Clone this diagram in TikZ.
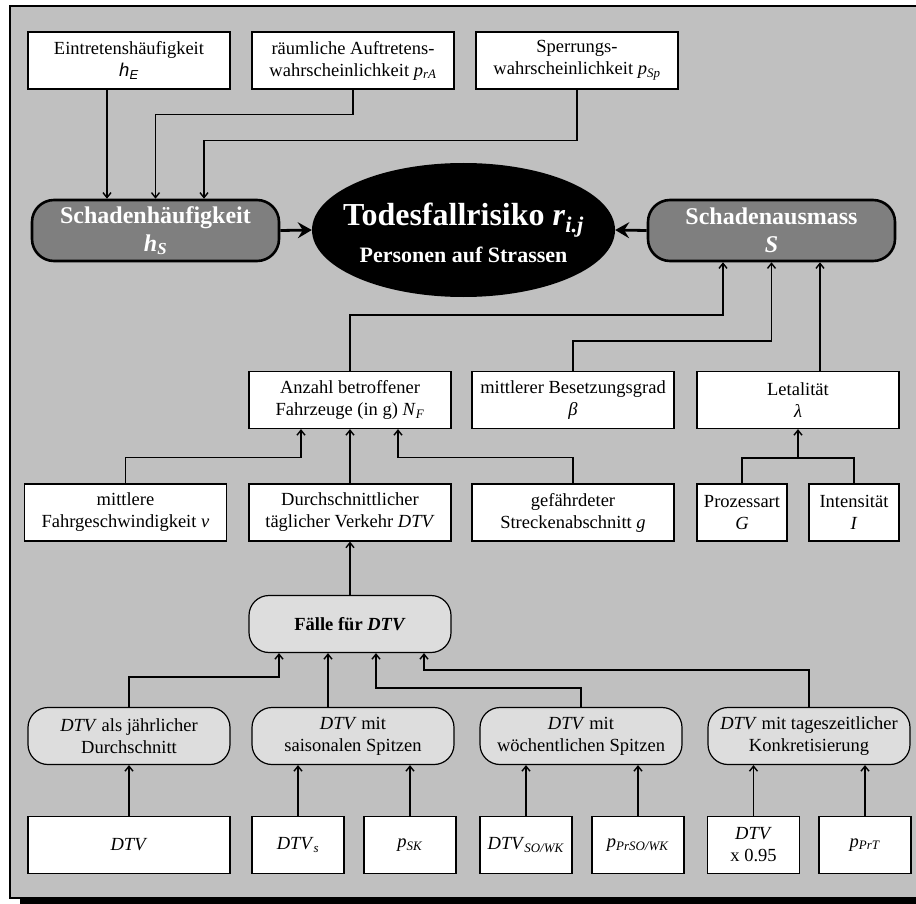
\documentclass[tikz,border=0pt]{standalone}
\usepackage{fontspec}
\setmainfont{Liberation Serif}
\newfontfamily\arialfont{Liberation Sans}
\usetikzlibrary{arrows.meta,positioning,calc,shapes.geometric}
\definecolor{bggrey}{HTML}{C0C0C0}
\definecolor{casegrey}{HTML}{DDDDDD}
\definecolor{mainbox}{HTML}{7F7F7F}
\newcommand{\iv}[2]{\textit{#1}\textsubscript{\textit{#2}}}

\tikzset{
  inbox/.style={draw, fill=white, line width=1.2pt, align=center, inner sep=0pt,
    minimum width=202pt, minimum height=57pt, font=\fontsize{18.5}{22}\selectfont},
  smallbox/.style={inbox, minimum width=92pt},
  casebox/.style={inbox, fill=casegrey, rounded corners=20pt},
  mainnode/.style={draw, fill=mainbox, line width=2.6pt, rounded corners=22pt,
    minimum width=247pt, minimum height=61pt, inner sep=0pt, text=white, align=center,
    font=\bfseries\fontsize{24}{28}\selectfont},
  link/.style={line width=1.4pt},
  arr/.style={link, -{Straight Barb[length=5pt,width=8pt]}},
  bigarr/.style={line width=2.8pt, -{Stealth[length=14pt,width=16pt,inset=5pt]}},
}

\begin{document}
\begin{tikzpicture}[x=1pt,y=-1pt]
  \useasboundingbox (0,0) rectangle (916,904);
  \clip (0,0) rectangle (916,904);
  % frame with shadow
  \fill[black] (20,12) rectangle (930,912);
  \draw[fill=bggrey, line width=1.6pt] (10,6) rectangle (925,898);

  % top row
  \node[inbox] (eintr) at (129,60.5) {Eintretensh\"aufigkeit\\{\arialfont\textit{h}\textsubscript{\textit{E}}}};
  \node[inbox] (raeuml) at (353,60.5) {r\"aumliche Auftretens-\\wahrscheinlichkeit \iv{p}{rA}};
  \node[inbox] (sperr) at (577,60.5) {Sperrungs-\\wahrscheinlichkeit \iv{p}{Sp}};

  % main level
  \node[mainnode] (hS) at (155.5,230.5) {Schadenh\"aufigkeit\\\iv{h}{S}};
  \node[ellipse, fill=black, minimum width=303pt, minimum height=134pt, inner sep=0pt] (risk) at (463.5,230) {};
  \node[text=white, align=center, font=\bfseries\fontsize{22}{37}\selectfont] (risktxt) at ([yshift=-3pt]risk.center)
    {{\fontsize{32}{37}\selectfont Todesfallrisiko \iv{r}{i.j}}\\Personen auf Strassen};
  \node[mainnode] (S) at (771.5,230.5) {Schadenausmass\\\textit{S}};

  % factors
  \node[inbox] (anzahl) at (350,400) {Anzahl betroffener\\Fahrzeuge (in g) \iv{N}{F}};
  \node[inbox] (beset) at (573,400) {mittlerer Besetzungsgrad\\\textit{β}};
  \node[inbox] (letal) at (798,400) {Letalit\"at\\\textit{λ}};

  \node[inbox] (fahrg) at (125.5,512.5) {mittlere\\Fahrgeschwindigkeit \textit{v}};
  \node[inbox] (dtv) at (350,512.5) {Durchschnittlicher\\t\"aglicher Verkehr \textit{DTV}};
  \node[inbox] (gefahr) at (573,512.5) {gef\"ahrdeter\\Streckenabschnitt \textit{g}};
  \node[inbox, minimum width=90pt] (prozess) at (742,512.5) {Prozessart\\\textit{G}};
  \node[inbox, minimum width=90pt] (intens) at (854,512.5) {Intensit\"at\\\textit{I}};

  % DTV cases
  \node[casebox, font=\bfseries\fontsize{18.5}{22}\selectfont] (faelle) at (350,624) {F\"alle f\"ur \textit{DTV}};
  \node[casebox] (jaehrl) at (129,736) {\textit{DTV} als j\"ahrlicher\\Durchschnitt};
  \node[casebox] (saison) at (353,736) {\textit{DTV} mit\\saisonalen Spitzen};
  \node[casebox] (woech) at (581,736) {\textit{DTV} mit\\w\"ochentlichen Spitzen};
  \node[casebox] (tages) at (809,736) {\textit{DTV} mit tageszeitlicher\\Konkretisierung};

  % inputs
  \node[inbox] (dtvA) at (129,845) {\textit{DTV}};
  \node[smallbox] (dtvS) at (298,845) {\iv{DTV}{s}};
  \node[smallbox] (pSK) at (410,845) {\iv{p}{SK}};
  \node[smallbox] (dtvSO) at (526,845) {\iv{DTV}{SO/WK}};
  \node[smallbox] (pPrSO) at (638,845) {\iv{p}{PrSO/WK}};
  \node[smallbox] (dtv95) at (753.5,845) {\textit{DTV}\\x 0.95};
  \node[smallbox] (pPrT) at (865,845) {\iv{p}{PrT}};

  % connectors
  \draw[arr] ([xshift=-22pt]eintr.south) -- ([xshift=-22pt]eintr.south |- hS.north);
  \draw[arr] (raeuml.south) -- ++(0,25) -| (hS.north);
  \draw[arr] (sperr.south) -- ++(0,51) -| ([xshift=48.5pt]hS.north);
  \draw[bigarr] (hS.east) -- (risk.west);
  \draw[bigarr] (S.west) -- (risk.east);

  \draw[arr] (anzahl.north) -- ++(0,-56) -| ([xshift=-48.5pt]S.south);
  \draw[arr] (beset.north) -- ++(0,-30) -| (S.south);
  \draw[arr] ([xshift=48.5pt]S.south |- letal.north) -- ([xshift=48.5pt]S.south);

  \draw[arr] (fahrg.north) -- ++(0,-26) -| ([xshift=-49pt]anzahl.south);
  \draw[arr] (dtv.north) -- (anzahl.south);
  \draw[arr] (gefahr.north) -- ++(0,-26) -| ([xshift=48pt]anzahl.south);
  \coordinate (lj) at (798,458);
  \draw[link] (prozess.north) |- (lj) -| (intens.north);
  \draw[arr] (lj) -- (letal.south);

  \draw[arr] (faelle.north) -- (dtv.south);
  \draw[arr] (jaehrl.north) -- ++(0,-30) -| ([xshift=-71pt]faelle.south);
  \draw[arr] ([xshift=-22pt]faelle.south |- saison.north) -- ([xshift=-22pt]faelle.south);
  \draw[arr] (woech.north) -- ++(0,-19) -| ([xshift=26pt]faelle.south);
  \draw[arr] (tages.north) -- ++(0,-37) -| ([xshift=74pt]faelle.south);

  \draw[arr] (dtvA.north) -- (jaehrl.south);
  \foreach \a/\b in {dtvS/saison, pSK/saison, dtvSO/woech, pPrSO/woech, dtv95/tages, pPrT/tages}
    \draw[arr] (\a.north) -- (\a.north |- \b.south);
\end{tikzpicture}
\end{document}
